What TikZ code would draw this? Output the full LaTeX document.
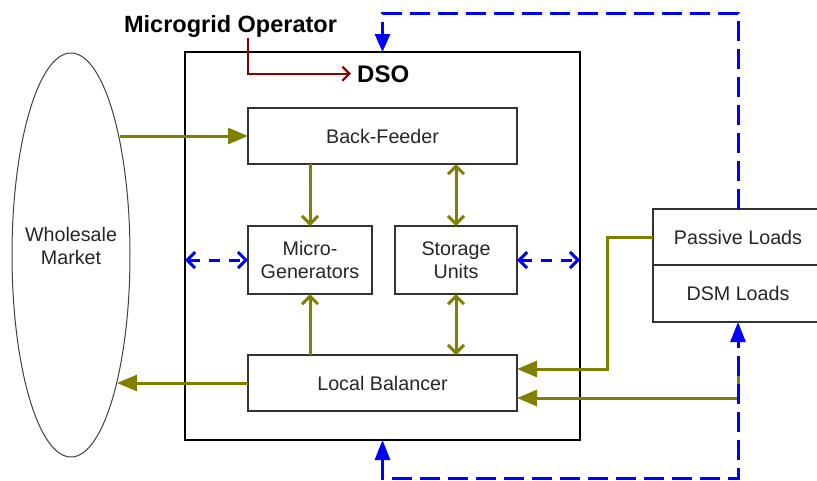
\documentclass[tikz,border=0pt]{standalone}
\usepackage{fontspec}
\setmainfont{Liberation Sans}
\usetikzlibrary{arrows.meta,shapes.geometric}
\definecolor{oliveg}{HTML}{808000}
\definecolor{dred}{HTML}{8B0000}
\definecolor{bl}{HTML}{0000FF}
\begin{document}
\begin{tikzpicture}[x=1pt,y=-1pt,
  txt/.style={font=\fontsize{19.7}{23.5}\selectfont, align=center, text=black!85},
  box/.style={txt, draw=black!80, line width=1.3pt, fill=white, inner sep=0pt, outer sep=0pt},
  bigbox/.style={draw=black, line width=2.8pt, inner sep=0pt, outer sep=0pt},
  ol/.style={draw=oliveg, line width=3pt},
  otri/.style={Triangle[length=20pt,width=16pt]},
  ofill/.style={ol, -{Triangle[length=20pt,width=16pt]}},
  oopen/.style={ol, -{Straight Barb[length=8pt,width=16pt]}},
  oopen2/.style={ol, {Straight Barb[length=8pt,width=16pt]}-{Straight Barb[length=8pt,width=16pt]}},
  bdash/.style={draw=bl, line width=3pt, dash pattern=on 20pt off 8pt},
  bshort/.style={draw=bl, line width=3pt, dash pattern=on 11pt off 9pt,
     {Straight Barb[length=8pt,width=16pt]}-{Straight Barb[length=8pt,width=16pt]}},
  redarr/.style={draw=dred, line width=2.2pt, -{Straight Barb[length=7pt,width=14pt]}}
]
\useasboundingbox (0,0) rectangle (817,480);

% main DSO box
\node[bigbox, minimum width=395pt, minimum height=388pt] (big) at (382.5,246) {};
% wholesale market
\node[ellipse, draw=black!75, line width=1pt, minimum width=118pt, minimum height=404pt, inner sep=0pt, outer sep=0pt] (wm) at (71,255) {};
\node[txt] (wmtext) at (71,246) {Wholesale\\Market};

% inner boxes
\node[box, minimum width=269pt, minimum height=56pt] (backfeeder) at (382.5,136) {Back-Feeder};
\node[box, minimum width=124pt, minimum height=68pt] (microgen) at (310,260) {Micro-\\Generators};
\node[box, minimum width=122pt, minimum height=68pt] (storage) at (456,260) {Storage\\Units};
\node[box, minimum width=269pt, minimum height=56pt] (balancer) at (382.5,383) {Local Balancer};

% loads
\node[box, minimum width=170pt, minimum height=56pt] (passive) at (738,237) {Passive Loads};
\node[box, minimum width=170pt, minimum height=57pt] (dsm) at (738,293.5) {DSM Loads};

% titles
\node[font=\fontsize{23.5}{26}\selectfont\bfseries, anchor=base, inner sep=0pt] (mo) at (230.5,32) {Microgrid Operator};
\node[font=\fontsize{24}{26}\selectfont\bfseries, anchor=base west, inner sep=0pt] (dso) at (357,82) {DSO};

\coordinate (mofoot) at (248,38);
\coordinate (topy) at (0,13);
\coordinate (boty) at (0,478);
\coordinate (pjog) at (607,0);
\coordinate (olstart) at (738,366);

% red operator arrow
\draw[redarr] (mofoot) |- ([xshift=-6pt]dso.west);

% olive connectors
\draw[ofill] (backfeeder.west -| wm.67.9) -- (backfeeder.west);
\draw[ofill] (balancer.west) -- (balancer.west -| wm.-70.4);
\draw[oopen] (microgen.north |- backfeeder.south) -- (microgen.north);
\draw[oopen2] (storage.north |- backfeeder.south) -- (storage.north);
\draw[oopen] (microgen.south |- balancer.north) -- (microgen.south);
\draw[oopen2] (storage.south) -- (storage.south |- balancer.north);
\draw[ofill] (passive.west) -- (passive.west -| pjog) |- ([yshift=14pt]balancer.east);
\draw[ofill] (olstart) |- ([yshift=-15pt]balancer.east);

% blue dashed connectors
\draw[bshort] (big.west |- microgen.west) -- (microgen.west);
\draw[bshort] (storage.east) -- (storage.east -| big.east);
\draw[bdash, -{Triangle[length=18pt,width=15pt]}] (passive.north) -- (passive.north |- topy) -| (big.north);
\draw[bdash, {Triangle[length=20pt,width=15pt]}-{Triangle[length=20pt,width=15pt]}] (big.south) -- (big.south |- boty) -| (dsm.south);
\end{tikzpicture}
\end{document}
